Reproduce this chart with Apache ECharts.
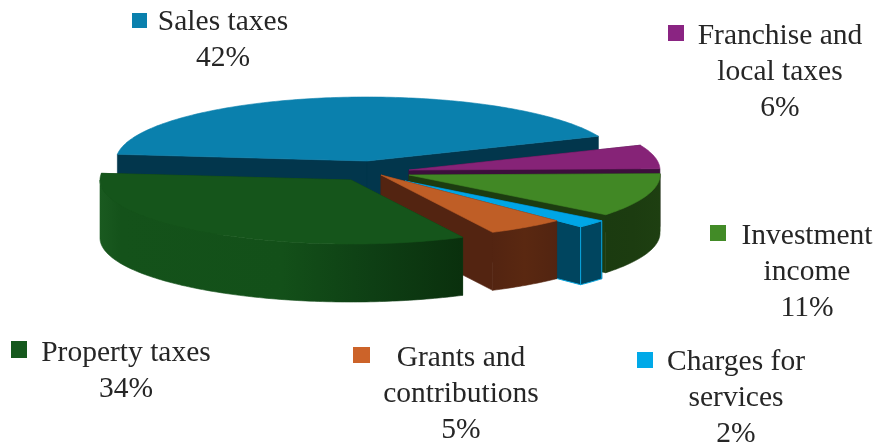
<!DOCTYPE html>
<html>
<head>
<meta charset="utf-8">
<style>html,body{margin:0;padding:0;background:#fff}#chart{width:878px;height:447px}</style>
<script src="https://cdn.jsdelivr.net/npm/echarts@6/dist/echarts.min.js"></script>
</head>
<body>
<div id="chart"></div>
<script>
// Revenue sources, in drawing order (clockwise from the far left of the disc).
const categories = ['Sales taxes', 'Franchise and\nlocal taxes', 'Investment\nincome', 'Charges for\nservices', 'Grants and\ncontributions', 'Property taxes'];
const shares = [42, 6, 11, 2, 5, 34];

// Disc geometry: elliptical radii, wall height and the angle the first slice starts at.
const RX = 251, RY = 64, DEPTH = 58, START_DEG = 186;

// Exploded apex of each slice.
const apexes = [[367, 161], [409, 170], [409, 175], [405, 181], [381, 175], [351, 180]];

const topColors = ['#0a80ad', '#862377', '#418825', '#00a6e6', '#bf5e26', '#15551b'];
const swatchColors = ['#0a80ad', '#8a2482', '#428b27', '#00a9e8', '#cc6329', '#15591d'];
const wallColors = ['#02364c', '#3c0f3c', '#1c3c10', '#00455f', '#532411', '#0e3f14'];
const wallStops = [
  null,
  [[0, '#3c0f3c'], [1, '#3c0f3c']],
  [[0, '#1b3b10'], [0.5, '#1c3c10'], [1, '#1e3f11']],
  [[0, '#00455f'], [1, '#00455f']],
  [[0, '#532411'], [0.5, '#5a2811'], [1, '#522411']],
  [[0, '#1a5a20'], [0.06, '#14521a'], [0.5, '#135019'], [0.75, '#0e3f14'], [1, '#0a300d']]
];

// Where each label block sits: swatch box and the centre of its first text line.
const labelLayout = [
  { swatch: [132, 13, 15, 15], x: 223, y: 22 },
  { swatch: [668, 25, 16, 16], x: 780, y: 36 },
  { swatch: [710, 225, 16, 16], x: 807, y: 236 },
  { swatch: [637, 352, 16, 16], x: 736, y: 362 },
  { swatch: [353, 347, 17, 16], x: 461, y: 358 },
  { swatch: [11, 341, 16, 17], x: 126, y: 353 }
];

const FONT = '"Liberation Serif", serif';
const LINE = 36;
const total = shares.reduce((a, b) => a + b, 0);
const rad = d => d * Math.PI / 180;

function onRim(c, deg, drop) {
  return [c[0] + RX * Math.cos(rad(deg)), c[1] + RY * Math.sin(rad(deg)) + (drop || 0)];
}
function arc(c, from, to, drop) {
  const pts = [];
  const steps = Math.max(2, Math.ceil(Math.abs(to - from)));
  for (let i = 0; i <= steps; i++) pts.push(onRim(c, from + (to - from) * i / steps, drop));
  return pts;
}
function poly(points, style) {
  return { type: 'polygon', shape: { points }, style };
}
function gradient(stops) {
  return { type: 'linear', x: 0, y: 0, x2: 1, y2: 0, colorStops: stops.map(s => ({ offset: s[0], color: s[1] })) };
}

function renderSlice(params, api) {
  const i = params.dataIndex;
  const value = api.value(0);
  let before = 0;
  for (let k = 0; k < i; k++) before += shares[k];
  const from = START_DEG + before / total * 360;
  const to = from + value / total * 360;
  const c = apexes[i];
  const children = [];
  const wall = wallColors[i];
  const isCharges = i === 3;
  const bright = '#0aa5de';

  // Two flat cut faces running in from the rim to the apex.
  [from, to].forEach((deg, n) => {
    const p = onRim(c, deg);
    const stroke = isCharges && n === 1 ? bright : wall;
    children.push(poly([c, p, [p[0], p[1] + DEPTH], [c[0], c[1] + DEPTH]], { fill: wall, stroke, lineWidth: isCharges ? 1 : 0.6 }));
  });

  // Outer wall, only the part of the rim facing the viewer.
  const a = from % 360, b = a + (to - from);
  const ranges = [[a, Math.min(b, 180)], [a - 360, Math.min(b - 360, 180)]].filter(r => r[1] > r[0] && r[1] > 0);
  ranges.forEach(r => {
    const lo = Math.max(r[0], -5), hi = r[1];
    if (hi <= lo) return;
    const pts = arc(c, lo, hi, 0).concat(arc(c, hi, lo, DEPTH));
    const fill = wallStops[i] ? gradient(wallStops[i]) : wall;
    children.push(poly(pts, { fill, stroke: isCharges ? bright : fill, lineWidth: isCharges ? 1 : 0.6 }));
  });

  // Top face of the slice.
  children.push(poly([c].concat(arc(c, from, to)), { fill: topColors[i], stroke: topColors[i], lineWidth: 0.6 }));

  return { type: 'group', children };
}

function renderLabel(params, api) {
  const i = params.dataIndex;
  const l = labelLayout[i];
  return {
    type: 'group',
    children: [
      { type: 'rect', shape: { x: l.swatch[0], y: l.swatch[1], width: l.swatch[2], height: l.swatch[3] }, style: { fill: swatchColors[i] } },
      {
        type: 'text',
        style: {
          text: categories[i] + '\n' + api.value(0) + '%',
          x: l.x,
          y: l.y - LINE / 2,
          align: 'center',
          verticalAlign: 'top',
          font: '29.5px ' + FONT,
          lineHeight: LINE,
          fill: '#262626',
          width: 300
        }
      }
    ]
  };
}

const chart = echarts.init(document.getElementById('chart'), null, { renderer: 'canvas' });
chart.setOption({
  animation: false,
  backgroundColor: '#ffffff',
  series: [
    { type: 'custom', coordinateSystem: 'none', silent: true, clip: false, data: shares.map(v => [v]), renderItem: renderSlice, z: 2 },
    { type: 'custom', coordinateSystem: 'none', silent: true, clip: false, data: shares.map(v => [v]), renderItem: renderLabel, z: 3 }
  ]
});
</script>
</body>
</html>
